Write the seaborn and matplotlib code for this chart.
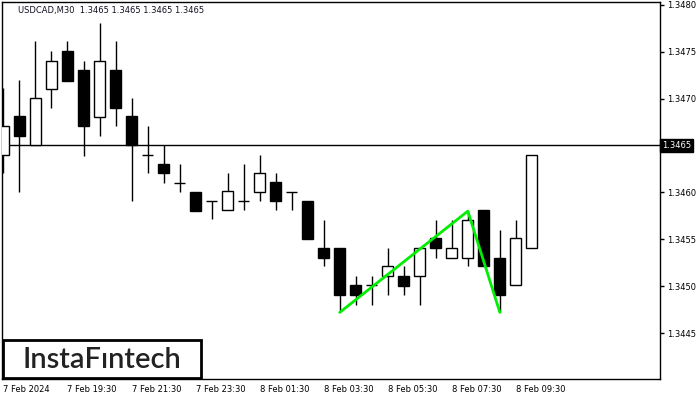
import matplotlib
matplotlib.use("Agg")
import matplotlib.pyplot as plt
import seaborn as sns
import pandas as pd
import numpy as np
from matplotlib.patches import Rectangle

# ---- data ----
tick_labels = ["7 Feb 2024", "7 Feb 19:30", "7 Feb 21:30", "7 Feb 23:30",
               "8 Feb 01:30", "8 Feb 03:30", "8 Feb 05:30", "8 Feb 07:30", "8 Feb 09:30"]
tick_index = [0, 4, 8, 12, 16, 20, 24, 28, 32]

opens = [1.34640, 1.34681, 1.34651, 1.34710, 1.34751, 1.34731, 1.34680, 1.34731, 1.34681,
         1.34640, 1.34630, 1.34610, 1.34600, 1.34591, 1.34581, 1.34591, 1.34600, 1.34611,
         1.34600, 1.34591, 1.34541, 1.34541, 1.34501, 1.34501, 1.34511, 1.34511, 1.34511,
         1.34551, 1.34530, 1.34530, 1.34581, 1.34530, 1.34501, 1.34541]
highs = [1.34711, 1.34720, 1.34761, 1.34751, 1.34761, 1.34740, 1.34781, 1.34761, 1.34701,
         1.34671, 1.34651, 1.34630, 1.34600, 1.34591, 1.34621, 1.34630, 1.34640, 1.34621,
         1.34600, 1.34591, 1.34571, 1.34541, 1.34511, 1.34511, 1.34541, 1.34521, 1.34541,
         1.34571, 1.34571, 1.34580, 1.34581, 1.34560, 1.34571, 1.34640]
lows = [1.34621, 1.34600, 1.34651, 1.34690, 1.34719, 1.34639, 1.34660, 1.34671, 1.34591,
        1.34621, 1.34610, 1.34600, 1.34580, 1.34572, 1.34581, 1.34581, 1.34591, 1.34581,
        1.34581, 1.34550, 1.34521, 1.34472, 1.34480, 1.34480, 1.34491, 1.34491, 1.34480,
        1.34530, 1.34530, 1.34521, 1.34521, 1.34472, 1.34501, 1.34541]
closes = [1.34671, 1.34660, 1.34701, 1.34740, 1.34719, 1.34671, 1.34740, 1.34690, 1.34651,
          1.34640, 1.34621, 1.34610, 1.34580, 1.34591, 1.34601, 1.34591, 1.34621, 1.34591,
          1.34600, 1.34550, 1.34530, 1.34491, 1.34491, 1.34501, 1.34521, 1.34500, 1.34541,
          1.34541, 1.34541, 1.34571, 1.34521, 1.34491, 1.34551, 1.34640]

pattern_index = [21, 29, 31]
pattern_price = [1.34472, 1.34580, 1.34472]

y_ticks = [1.3445, 1.3450, 1.3455, 1.3460, 1.3470, 1.3475, 1.3480]
current_price = 1.3465
title = "USDCAD,M30  1.3465 1.3465 1.3465 1.3465"
logo = "InstaF\u0131ntech"

# ---- plot ----
sns.set_theme(style="white")
plt.rcParams['font.family'] = ['DejaVu Sans']

fig = plt.figure(figsize=(7, 4), dpi=100)
ax = fig.add_axes([2 / 700, 21 / 400, 658 / 700, 377 / 400])

df = pd.DataFrame({"i": np.arange(len(opens)), "open": opens, "high": highs,
                   "low": lows, "close": closes})

# wicks
ax.vlines(df["i"], df["low"], df["high"], color="black", lw=1.0, zorder=2)

w = 0.69
bottoms = np.minimum(df["open"], df["close"])
heights = np.abs(df["close"] - df["open"])
up = df["close"] > df["open"]
down = df["close"] < df["open"]
doji = df["close"] == df["open"]
ax.bar(df["i"][up], heights[up], bottom=bottoms[up], width=w, facecolor="white",
       edgecolor="black", linewidth=1.0, zorder=3)
ax.bar(df["i"][down], heights[down], bottom=bottoms[down], width=w, facecolor="black",
       edgecolor="black", linewidth=1.0, zorder=3)
ax.hlines(df["open"][doji], df["i"][doji] - w / 2, df["i"][doji] + w / 2,
          color="black", lw=1.0, zorder=3)

# current price line
ax.axhline(current_price, color="black", lw=1.0, zorder=1)

# pattern line
pdf = pd.DataFrame({"i": pattern_index, "p": pattern_price})
sns.lineplot(data=pdf, x="i", y="p", ax=ax, color="#00ee00", lw=2.0, zorder=5,
             sort=False)

ax.set_xlim(-0.09, 41.0)
ax.set_ylim(1.34401, 1.34803)
ax.set_xlabel("")
ax.set_ylabel("")

for s in ax.spines.values():
    s.set_color("black")
    s.set_linewidth(1.0)
    s.set_visible(True)

ax.yaxis.tick_right()
ax.set_yticks(y_ticks)
ax.set_yticklabels([f"{v:.4f}" for v in y_ticks])
ax.set_xticks(tick_index)
ax.set_xticklabels(tick_labels, ha="left")
ax.tick_params(axis="both", which="both", direction="out", length=3, width=1,
               color="black", labelsize=6, labelcolor="black", pad=2)
ax.tick_params(axis="x", pad=1.5)

# current price label
ax.text(1.003, current_price, "1.3465", transform=ax.get_yaxis_transform(),
        ha="left", va="center", fontsize=6, color="white",
        bbox=dict(boxstyle="square,pad=0.25", facecolor="black", edgecolor="black"))

# title
fig.text(18 / 700, 1 - 11 / 400, title, ha="left", va="center", fontsize=6,
         color="#111122")

# logo
fig.add_artist(Rectangle((3 / 700, 22 / 400), 198 / 700, 38 / 400,
                         transform=fig.transFigure, facecolor="white",
                         edgecolor="black", linewidth=2.0, zorder=10))
fig.text(101.5 / 700, 1 - 359.5 / 400, logo, ha="center", va="center",
         fontsize=21, color="#222222", family=["Lato", "DejaVu Sans"],
         weight="semibold", zorder=11)

fig.savefig("out.png", dpi=100, facecolor="white")
